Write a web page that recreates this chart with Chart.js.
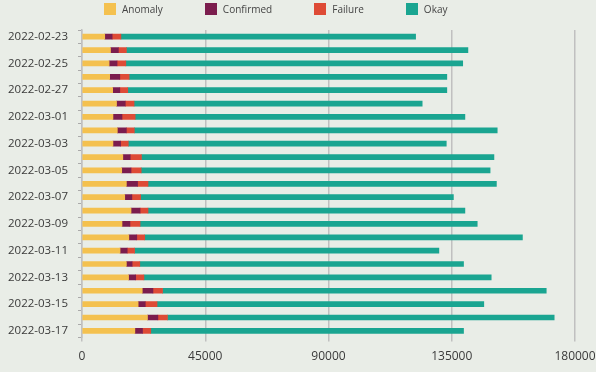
<!DOCTYPE html>
<html>
<head>
<meta charset="utf-8">
<script src="https://cdn.jsdelivr.net/npm/chart.js@4/dist/chart.umd.min.js"></script>
<style>
  html, body { margin: 0; padding: 0; background: #e9ede7; }
  #wrap { position: relative; width: 596px; height: 372px; }
  #legend { position: absolute; top: 3px; left: 104px; display: flex; gap: 42px;
            font: 10px "Open Sans", sans-serif; color: #444; line-height: 12px; }
  .item { display: flex; align-items: center; gap: 6px; }
  .box { width: 12px; height: 12px; }
</style>
</head>
<body>
<div id="wrap">
  <div id="legend"></div>
  <canvas id="statusChart" width="596" height="372"></canvas>
</div>
<script>
const dates = [
  '2022-02-23', '2022-02-24', '2022-02-25', '2022-02-26', '2022-02-27', '2022-02-28',
  '2022-03-01', '2022-03-02', '2022-03-03', '2022-03-04', '2022-03-05', '2022-03-06',
  '2022-03-07', '2022-03-08', '2022-03-09', '2022-03-10', '2022-03-11', '2022-03-12',
  '2022-03-13', '2022-03-14', '2022-03-15', '2022-03-16', '2022-03-17'
];
const anomaly = [8300, 10400, 9900, 10100, 11200, 12600, 11300, 12900, 11300, 14900, 14500, 16200,
                 15600, 17900, 14600, 17100, 13900, 16200, 17000, 22000, 20500, 23900, 19300];
const confirmed = [2700, 2900, 2900, 3700, 2600, 3200, 3300, 3300, 2800, 2700, 3400, 4100,
                   2600, 3300, 2900, 2900, 2600, 2100, 2600, 3900, 2600, 3800, 2800];
const failure = [3200, 2900, 3200, 3400, 2900, 3200, 4800, 2900, 2800, 4100, 3700, 3800,
                 3200, 2900, 3700, 2900, 2700, 2800, 3000, 3500, 4300, 3500, 3000];
const okay = [107600, 124700, 123000, 116000, 116500, 105200, 120400, 132500, 116100, 128700, 127400, 127200,
              114200, 115700, 123100, 137900, 111100, 118200, 126800, 140100, 119300, 141200, 114200];
const xTicks = [0, 45000, 90000, 135000, 180000];

const series = [
    { label: 'Anomaly', data: anomaly, color: '#f4c14f' },
    { label: 'Confirmed', data: confirmed, color: '#7b1d4e' },
    { label: 'Failure', data: failure, color: '#de4b36' },
    { label: 'Okay', data: okay, color: '#1aa591' }
];

const ctx = document.getElementById('statusChart');

const chart = new Chart(ctx, {
    type: 'bar',
    data: {
        labels: dates,
        datasets: series.map(s => ({
            label: s.label,
            data: s.data,
            backgroundColor: s.color,
            borderWidth: 0,
            barThickness: 5
        }))
    },
    options: {
        indexAxis: 'y',
        responsive: false,
        animation: false,
        devicePixelRatio: 1,
        layout: { padding: { top: 30, left: 0, right: 0, bottom: 0 } },
        scales: {
            x: {
                stacked: true,
                min: xTicks[0],
                max: xTicks[xTicks.length - 1],
                afterBuildTicks: axis => { axis.ticks = xTicks.map(v => ({ value: v })); },
                // keep the plot reaching under the middle of the last label
                afterFit: scale => { scale.paddingRight = 21; scale.paddingLeft = 0; },
                ticks: {
                    callback: v => String(v),
                    font: { family: 'Open Sans', size: 12 },
                    color: '#3a3a3a',
                    padding: 8,
                    maxRotation: 0
                },
                grid: { color: '#c0c0c0', lineWidth: 1.5, tickLength: 4 },
                border: { display: false }
            },
            y: {
                stacked: true,
                afterFit: scale => { scale.width = 82; },
                ticks: {
                    autoSkip: false,
                    callback: function(value, index) { return index % 2 === 0 ? dates[index] : ''; },
                    font: { family: 'Open Sans', size: 11.5 },
                    color: '#3a3a3a',
                    padding: 10
                },
                grid: { drawOnChartArea: false, color: '#aaaaaa', tickLength: 4 },
                border: { color: '#c0c0c0', width: 1.5 }
            }
        },
        plugins: {
            legend: { display: false },
            tooltip: { enabled: false }
        }
    }
});

// HTML legend
const legendEl = document.getElementById('legend');
series.forEach(s => {
    const item = document.createElement('div');
    item.className = 'item';
    const box = document.createElement('span');
    box.className = 'box';
    box.style.background = s.color;
    const text = document.createElement('span');
    text.textContent = s.label;
    item.appendChild(box);
    item.appendChild(text);
    legendEl.appendChild(item);
});
</script>
</body>
</html>
